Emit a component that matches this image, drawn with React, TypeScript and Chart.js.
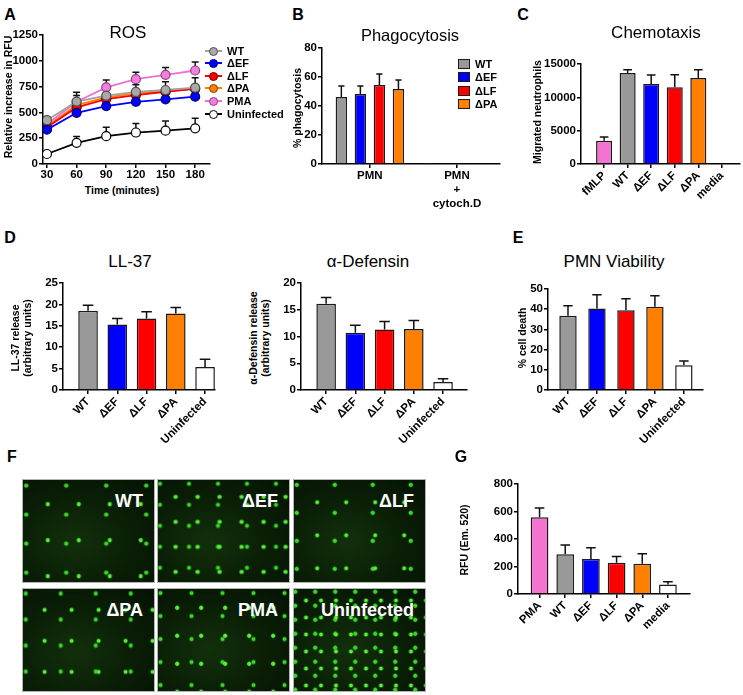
import React, { useEffect, useRef } from "react";
import { Chart, registerables, ChartConfiguration } from "chart.js";

Chart.register(...registerables);

const FONT = "'Liberation Sans', Arial, Helvetica, sans-serif";

// ---- A: ROS time course (RFU) ----
const rosTimes = [30, 60, 90, 120, 150, 180];
const rosWT = [425, 605, 662, 698, 717, 740];
const rosWTErr = [30, 90, 60, 70, 80, 95];
const rosEF = [333, 496, 561, 603, 626, 652];
const rosEFErr = [20, 30, 30, 25, 25, 25];
const rosLF = [355, 548, 629, 668, 700, 727];
const rosLFErr = [25, 40, 35, 30, 30, 30];
const rosPA = [365, 570, 645, 685, 707, 733];
const rosPAErr = [25, 45, 40, 35, 35, 35];
const rosPMA = [385, 603, 743, 822, 864, 906];
const rosPMAErr = [30, 60, 72, 68, 72, 82];
const rosUninf = [97, 205, 270, 305, 323, 346];
const rosUninfErr = [20, 62, 85, 88, 94, 98];

// ---- B: phagocytosis ----
const phagoGroups = ["PMN", ["PMN", "+", "cytoch.D"]];
const phagoWT = [46.2, 0.3];
const phagoWTErr = [7.6, 0];
const phagoEF = [48.3, 0.3];
const phagoEFErr = [5.5, 0];
const phagoLF = [54.5, 0.4];
const phagoLFErr = [7.5, 0];
const phagoPA = [51.7, 0.4];
const phagoPAErr = [6.3, 0];

// ---- C: chemotaxis ----
const chemoCats = ["fMLP", "WT", "ΔEF", "ΔLF", "ΔPA", "media"];
const chemoVals = [3500, 13650, 12000, 11500, 12900, 0];
const chemoErr = [550, 500, 1350, 1900, 1250, 0];

// ---- D: LL-37 and alpha-defensin ----
const releaseCats = ["WT", "ΔEF", "ΔLF", "ΔPA", "Uninfected"];
const ll37Vals = [18.5, 15.3, 16.7, 17.9, 5.4];
const ll37Err = [1.3, 1.4, 1.6, 1.4, 1.8];
const defVals = [16.1, 10.7, 11.3, 11.4, 1.5];
const defErr = [1.2, 1.4, 1.5, 1.6, 0.6];

// ---- E: PMN viability ----
const viaVals = [36.7, 40.3, 39.5, 41.2, 12.3];
const viaErr = [5.0, 6.9, 5.7, 5.5, 2.0];

// ---- G: RFU (Em. 520) ----
const rfuCats = ["PMA", "WT", "ΔEF", "ΔLF", "ΔPA", "media"];
const rfuVals = [558, 290, 254, 227, 220, 70];
const rfuErr = [68, 67, 82, 46, 72, 19];

const GRAY = "#999999";
const BLUE = "#0000ff";
const RED = "#ff0000";
const ORANGE = "#ff8000";
const PINK = "#f472d0";
const WHITE = "#ffffff";
const strainColors = [GRAY, BLUE, RED, ORANGE, WHITE];

const errorBarPlugin = {
  id: "errorBars",
  beforeDatasetsDraw(chart: any) {
    const { ctx } = chart;
    const yScale = chart.scales.y;
    chart.data.datasets.forEach((ds: any, di: number) => {
      if (!ds.errors) return;
      const meta = chart.getDatasetMeta(di);
      meta.data.forEach((el: any, i: number) => {
        const err = ds.errors[i];
        if (!err) return;
        const raw = ds.data[i];
        const v = typeof raw === "number" ? raw : raw.y;
        const yBase = yScale.getPixelForValue(v);
        const yTop = yScale.getPixelForValue(v + err);
        const half = el.width ? el.width * 0.27 : 3.5;
        ctx.save();
        ctx.strokeStyle = "#111";
        ctx.lineWidth = 1.5;
        ctx.beginPath();
        ctx.moveTo(el.x, yBase);
        ctx.lineTo(el.x, yTop);
        ctx.moveTo(el.x - half, yTop);
        ctx.lineTo(el.x + half, yTop);
        ctx.stroke();
        ctx.restore();
      });
    });
  },
};

const tickFont = { family: FONT, size: 11.5, weight: "bold" as const };
const catFont = { family: FONT, size: 11.5, weight: "bold" as const };

const axisLines = {
  grid: { display: true, drawOnChartArea: false, drawTicks: true, tickLength: 4, color: "#000", lineWidth: 1.5, offset: false },
  border: { display: true, color: "#000", width: 1.5 },
};

interface Box { x: number; y: number; w: number; h: number; pad: any; yw: number; xh: number }

// place a canvas so that its chart area lands on (L,T)-(R,B) of the page
function place(L: number, T: number, R: number, B: number, yw: number, xh: number, pr = 10, pt = 10): Box {
  return { x: L - yw, y: T - pt, w: R - L + yw + pr, h: B - T + pt + xh, pad: { top: pt, right: pr, left: 0, bottom: 0 }, yw, xh };
}

function yAxis(box: Box, max: number, step: number) {
  return {
    ...axisLines,
    min: 0,
    max,
    ticks: { stepSize: step, font: tickFont, color: "#000", padding: 1, callback: (v: any) => String(v) },
    afterFit: (s: any) => { s.width = box.yw; },
  };
}

function barConfig(box: Box, cats: any[], sets: any[], xMin: number, xMax: number, yMax: number, yStep: number, rotate: boolean, catPct: number, barPct: number): ChartConfiguration {
  return {
    type: "bar",
    data: {
      datasets: sets.map((s) => ({
        label: s.label,
        data: s.values.map((v: number, i: number) => ({ x: i, y: v })),
        errors: s.errors,
        backgroundColor: s.colors,
        borderColor: "#1a1a1a",
        borderWidth: 1.5,
        categoryPercentage: catPct,
        barPercentage: barPct,
      })) as any,
    },
    options: {
      animation: false,
      responsive: false,
      layout: { padding: box.pad },
      plugins: { legend: { display: false }, tooltip: { enabled: false }, title: { display: false } },
      scales: {
        x: {
          ...axisLines,
          type: "linear",
          offset: false,
          min: xMin,
          max: xMax,
          afterBuildTicks: (s: any) => { s.ticks = cats.map((_: any, i: number) => ({ value: i })); },
          afterFit: (s: any) => { s.height = box.xh; },
          ticks: {
            autoSkip: false,
            font: catFont,
            color: "#000",
            padding: 1,
            minRotation: rotate ? 45 : 0,
            maxRotation: rotate ? 45 : 0,
            callback: (v: any) => cats[Math.round(v)],
          },
        } as any,
        y: yAxis(box, yMax, yStep) as any,
      },
    },
    plugins: [errorBarPlugin as any],
  };
}

// ---- boxes ----
const boxA = place(43, 35, 210, 164, 34, 18);
const boxB = place(322, 48, 500, 164, 26, 45);
const boxC = place(581, 64, 740, 164, 40, 40, 3);
const boxD1 = place(63, 283, 215, 390, 30, 70);
const boxD2 = place(301, 283, 467, 390, 30, 70);
const boxE = place(548, 289, 703, 390, 30, 70);
const boxG = place(518, 484, 690, 594, 32, 60);

const rosSeries = [
  { label: "WT", data: rosWT, err: rosWTErr, line: "#a0a0a0", fill: "#a8a8a8", edge: "#505050" },
  { label: "ΔEF", data: rosEF, err: rosEFErr, line: BLUE, fill: BLUE, edge: "#000060" },
  { label: "ΔLF", data: rosLF, err: rosLFErr, line: RED, fill: RED, edge: "#600000" },
  { label: "ΔPA", data: rosPA, err: rosPAErr, line: ORANGE, fill: ORANGE, edge: "#804000" },
  { label: "PMA", data: rosPMA, err: rosPMAErr, line: "#f070d8", fill: "#f080dc", edge: "#904080" },
  { label: "Uninfected", data: rosUninf, err: rosUninfErr, line: "#000000", fill: WHITE, edge: "#000000" },
];

const configA: ChartConfiguration = {
  type: "line",
  data: {
    datasets: rosSeries.map((s) => ({
      label: s.label,
      data: rosTimes.map((t, i) => ({ x: t, y: s.data[i] })),
      errors: s.err,
      borderColor: s.line,
      backgroundColor: s.fill,
      pointBackgroundColor: s.fill,
      pointBorderColor: s.edge,
      pointRadius: 4.5,
      pointBorderWidth: 1.2,
      borderWidth: 1.8,
      tension: 0,
    })) as any,
  },
  options: {
    animation: false,
    responsive: false,
    layout: { padding: boxA.pad },
    plugins: { legend: { display: false }, tooltip: { enabled: false } },
    scales: {
      x: {
        ...axisLines,
        type: "linear",
        min: 26,
        max: 195,
        afterBuildTicks: (s: any) => { s.ticks = rosTimes.map((t) => ({ value: t })); },
        afterFit: (s: any) => { s.height = boxA.xh; },
        ticks: { font: tickFont, color: "#000", padding: 0, maxRotation: 0, autoSkip: false, callback: (v: any) => String(v) },
      } as any,
      y: yAxis(boxA, 1250, 250) as any,
    },
  },
  plugins: [errorBarPlugin as any],
};

const configB = barConfig(boxB, phagoGroups, [
  { label: "WT", values: phagoWT, errors: phagoWTErr, colors: GRAY },
  { label: "ΔEF", values: phagoEF, errors: phagoEFErr, colors: BLUE },
  { label: "ΔLF", values: phagoLF, errors: phagoLFErr, colors: RED },
  { label: "ΔPA", values: phagoPA, errors: phagoPAErr, colors: ORANGE },
], -0.55, 1.494, 80, 20, false, 0.874, 0.6);

const configC = barConfig(boxC, chemoCats, [
  { label: "Chemotaxis", values: chemoVals, errors: chemoErr, colors: [PINK, GRAY, BLUE, RED, ORANGE, WHITE] },
], -0.98, 5.77, 15000, 5000, true, 1, 0.68);

const configD1 = barConfig(boxD1, releaseCats, [
  { label: "LL-37", values: ll37Vals, errors: ll37Err, colors: strainColors },
], -0.856, 4.34, 25, 5, true, 1, 0.67);

const configD2 = barConfig(boxD2, releaseCats, [
  { label: "α-Defensin", values: defVals, errors: defErr, colors: strainColors },
], -0.86, 4.82, 20, 5, true, 1, 0.67);

const configE = barConfig(boxE, releaseCats, [
  { label: "PMN Viability", values: viaVals, errors: viaErr, colors: strainColors },
], -0.69, 4.66, 50, 10, true, 1, 0.6);

const configG = barConfig(boxG, rfuCats, [
  { label: "RFU", values: rfuVals, errors: rfuErr, colors: [PINK, GRAY, BLUE, RED, ORANGE, WHITE] },
], -0.84, 5.86, 800, 200, true, 1, 0.69);

const ChartCanvas: React.FC<{ box: Box; config: ChartConfiguration }> = ({ box, config }) => {
  const ref = useRef<HTMLCanvasElement>(null);
  useEffect(() => {
    if (!ref.current) return;
    const chart = new Chart(ref.current, config);
    return () => chart.destroy();
  }, [config]);
  return (
    <canvas
      ref={ref}
      width={box.w}
      height={box.h}
      style={{ position: "absolute", left: box.x, top: box.y, width: box.w, height: box.h }}
    />
  );
};

const Txt: React.FC<{ x: number; y: number; size: number; bold?: boolean; rotate?: boolean; lh?: number; children: React.ReactNode }> = ({ x, y, size, bold, rotate, lh, children }) => (
  <div
    style={{
      position: "absolute",
      left: x,
      top: y,
      transform: `translate(-50%, -50%)${rotate ? " rotate(-90deg)" : ""}`,
      fontFamily: FONT,
      fontSize: size,
      fontWeight: bold ? "bold" : "normal",
      lineHeight: lh ? `${lh}px` : "normal",
      whiteSpace: "pre",
      textAlign: "center",
      color: "#000",
    }}
  >
    {children}
  </div>
);

const rosLegendY = [51, 63, 76, 88, 101, 114];
const phagoLegendY = [64, 77, 91, 104];
const phagoLegend = [
  { label: "WT", color: GRAY },
  { label: "ΔEF", color: BLUE },
  { label: "ΔLF", color: RED },
  { label: "ΔPA", color: ORANGE },
];

// F: fluorescence micrographs (photographs, approximated by a dark field with cell-like dots)
const micrographs = [
  { label: "WT", x: 22, y: 479, dots: 31 },
  { label: "ΔEF", x: 157, y: 479, dots: 22 },
  { label: "ΔLF", x: 293, y: 479, dots: 29 },
  { label: "ΔPA", x: 22, y: 588, dots: 27 },
  { label: "PMA", x: 157, y: 588, dots: 24 },
  { label: "Uninfected", x: 293, y: 588, dots: 15 },
];

function fieldBackground(step: number) {
  const dot = (c: string) => `radial-gradient(circle, ${c} 0 1.6px, rgba(40,200,30,0.35) 2.2px, transparent 3px)`;
  return [
    `${dot("#5cf03c")} ${step * 0.3}px ${step * 0.2}px / ${step}px ${Math.round(step * 1.15)}px`,
    `${dot("#3ad828")} ${step * 0.75}px ${step * 0.65}px / ${Math.round(step * 1.3)}px ${Math.round(step * 0.95)}px`,
    "radial-gradient(ellipse at 40% 60%, #12300b 0%, #0a1f06 50%, #051204 100%)",
  ].join(", ");
}

export default function App() {
  return (
    <div style={{ position: "absolute", left: 0, top: 0, width: 743, height: 695, background: "#fff", overflow: "hidden", fontFamily: FONT }}>
      <ChartCanvas box={boxA} config={configA} />
      <ChartCanvas box={boxB} config={configB} />
      <ChartCanvas box={boxC} config={configC} />
      <ChartCanvas box={boxD1} config={configD1} />
      <ChartCanvas box={boxD2} config={configD2} />
      <ChartCanvas box={boxE} config={configE} />
      <ChartCanvas box={boxG} config={configG} />

      {/* panel letters */}
      <Txt x={10} y={15} size={16} bold>A</Txt>
      <Txt x={298} y={15} size={16} bold>B</Txt>
      <Txt x={523} y={15} size={16} bold>C</Txt>
      <Txt x={10} y={238} size={16} bold>D</Txt>
      <Txt x={518} y={238} size={16} bold>E</Txt>
      <Txt x={12} y={457} size={16} bold>F</Txt>
      <Txt x={461} y={457} size={16} bold>G</Txt>

      {/* titles */}
      <Txt x={128} y={33} size={17}>ROS</Txt>
      <Txt x={410} y={35} size={16.5}>Phagocytosis</Txt>
      <Txt x={656} y={33} size={17}>Chemotaxis</Txt>
      <Txt x={130} y={262} size={17}>LL-37</Txt>
      <Txt x={368} y={262} size={17}>α-Defensin</Txt>
      <Txt x={614} y={262} size={17}>PMN Viability</Txt>

      {/* axis titles */}
      <Txt x={8} y={97} size={10.5} bold rotate>Relative increase in RFU</Txt>
      <Txt x={122} y={190} size={10.5} bold>Time (minutes)</Txt>
      <Txt x={297} y={108} size={10.5} bold rotate>% phagocytosis</Txt>
      <Txt x={537} y={112} size={10.5} bold rotate>Migrated neutrophils</Txt>
      <Txt x={21} y={338} size={10.5} bold rotate lh={12}>{"LL-37 release\n(arbitrary units)"}</Txt>
      <Txt x={259} y={338} size={10.5} bold rotate lh={12}>{"α-Defensin release\n(arbitrary units)"}</Txt>
      <Txt x={522} y={338} size={10.5} bold rotate>% cell death</Txt>
      <Txt x={464} y={540} size={10.5} bold rotate>RFU (Em. 520)</Txt>

      {/* ROS legend */}
      {rosSeries.map((s, i) => (
        <React.Fragment key={s.label}>
          <div style={{ position: "absolute", left: 205, top: rosLegendY[i] - 1, width: 17, height: 2, background: s.line }} />
          <div
            style={{
              position: "absolute",
              left: 209,
              top: rosLegendY[i] - 4.5,
              width: 9,
              height: 9,
              borderRadius: "50%",
              background: s.fill,
              border: `1.2px solid ${s.edge}`,
              boxSizing: "border-box",
            }}
          />
          <div style={{ position: "absolute", left: 227, top: rosLegendY[i], transform: "translateY(-50%)", fontFamily: FONT, fontSize: 11, fontWeight: "bold", whiteSpace: "nowrap" }}>
            {s.label}
          </div>
        </React.Fragment>
      ))}

      {/* phagocytosis legend */}
      {phagoLegend.map((s, i) => (
        <React.Fragment key={s.label}>
          <div
            style={{
              position: "absolute",
              left: 458,
              top: phagoLegendY[i] - 5,
              width: 12,
              height: 10,
              background: s.color,
              border: "1.5px solid #1a1a1a",
              boxSizing: "border-box",
            }}
          />
          <div style={{ position: "absolute", left: 475, top: phagoLegendY[i], transform: "translateY(-50%)", fontFamily: FONT, fontSize: 11, fontWeight: "bold", whiteSpace: "nowrap" }}>
            {s.label}
          </div>
        </React.Fragment>
      ))}

      {/* F: fluorescence micrograph panels */}
      {micrographs.map((m) => (
        <div
          key={m.label}
          style={{
            position: "absolute",
            left: m.x,
            top: m.y,
            width: 133,
            height: 104,
            boxSizing: "border-box",
            border: "1.5px solid #b4b4b4",
            background: fieldBackground(m.dots),
          }}
        >
          <div style={{ position: "absolute", right: 11, top: 21, transform: "translateY(-50%)", fontFamily: FONT, fontSize: 18, fontWeight: "bold", color: "#fff", whiteSpace: "nowrap" }}>
            {m.label}
          </div>
        </div>
      ))}
    </div>
  );
}
